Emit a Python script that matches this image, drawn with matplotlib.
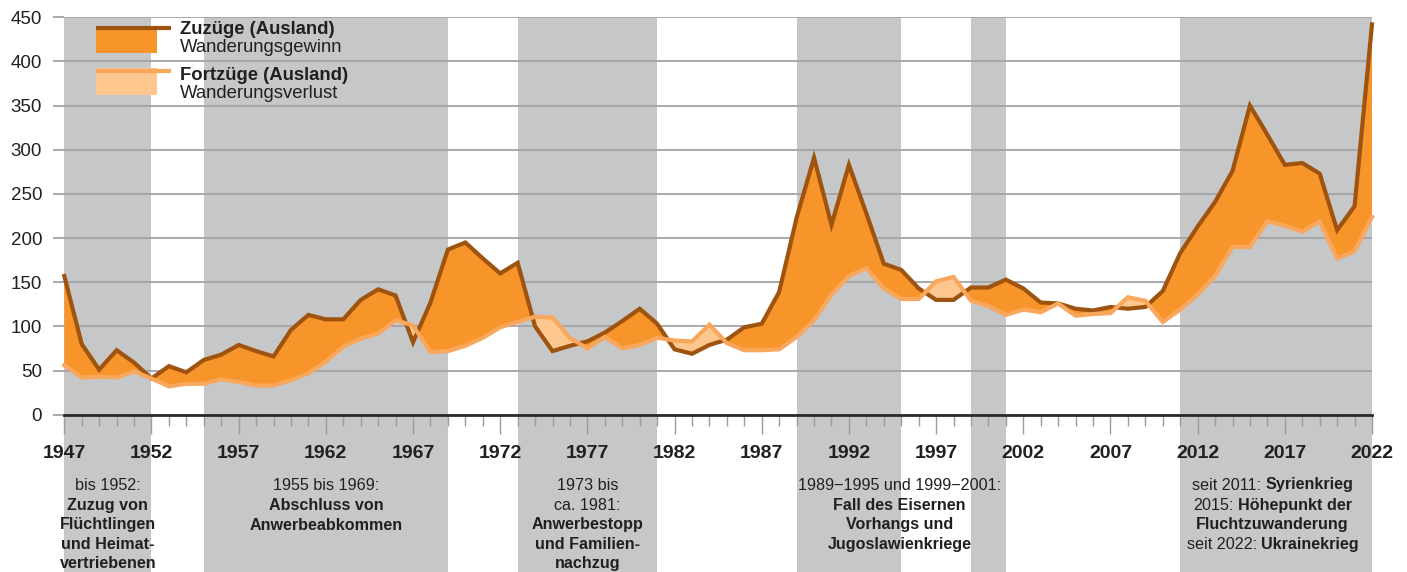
import matplotlib
matplotlib.use("Agg")
import matplotlib.pyplot as plt
import numpy as np
from matplotlib.patches import Rectangle
from matplotlib.lines import Line2D

# ---------------- data (thousands) ----------------
years = list(range(1947, 2023))
zuzuege = [157, 80, 51, 73, 59, 41, 55, 48, 62, 68,
           79, 72, 66, 96, 113, 108, 108, 130, 142, 135,
           82, 127, 187, 195, 177, 160, 172, 100, 72, 78,
           83, 93, 106, 120, 103, 74, 69, 79, 85, 99,
           103, 139, 223, 291, 215, 283, 228, 171, 164, 143,
           130, 130, 144, 144, 153, 143, 127, 126, 120, 118,
           122, 120, 122, 140, 183, 213, 241, 276, 350, 317,
           283, 285, 273, 209, 236, 442]
fortzuege = [56, 42, 43, 42, 49, 41, 32, 35, 35, 40,
             37, 33, 33, 39, 47, 60, 77, 86, 92, 107,
             101, 71, 72, 78, 87, 99, 105, 111, 110, 87,
             75, 88, 75, 79, 87, 84, 83, 102, 81, 73,
             73, 74, 88, 107, 136, 157, 166, 143, 131, 131,
             151, 156, 129, 123, 113, 119, 116, 126, 112, 114,
             115, 133, 129, 105, 119, 136, 157, 190, 190, 219,
             214, 207, 219, 177, 185, 224]
assert len(years) == len(zuzuege) == len(fortzuege)

periods = [(1947, 1952), (1955, 1969), (1973, 1981), (1989, 1995), (1999, 2001), (2011, 2022)]
yticks = [0, 50, 100, 150, 200, 250, 300, 350, 400, 450]
xticks_major = list(range(1947, 2023, 5))

# annotation blocks: (x in years, lines as list of segments (text, weight))
annotations = [
    (1949.5, [[("bis 1952:", "normal")], [("Zuzug von", "bold")], [("Flüchtlingen", "bold")],
              [("und Heimat-", "bold")], [("vertriebenen", "bold")]]),
    (1962.0, [[("1955 bis 1969:", "normal")], [("Abschluss von", "bold")], [("Anwerbeabkommen", "bold")]]),
    (1977.0, [[("1973 bis", "normal")], [("ca. 1981:", "normal")], [("Anwerbestopp", "bold")],
              [("und Familien-", "bold")], [("nachzug", "bold")]]),
    (1994.9, [[("1989\u22121995 und 1999\u22122001:", "normal")], [("Fall des Eisernen", "bold")],
              [("Vorhangs und", "bold")], [("Jugoslawienkriege", "bold")]]),
    (2016.3, [[("seit 2011:", "normal"), ("Syrienkrieg", "bold")],
              [("2015:", "normal"), ("Höhepunkt der", "bold")],
              [("Fluchtzuwanderung", "bold")],
              [("seit 2022:", "normal"), ("Ukrainekrieg", "bold")]]),
]
line_y_px = [485, 505.5, 525, 544.5, 563.5]

# ---------------- style ----------------
C_DARK = "#9E540F"
C_GAIN = "#F7952B"
C_LIGHT = "#F9A75C"
C_LOSS = "#FDC78F"
C_GRAY = "#C6C7C9"
C_GRID = "#A3A3A5"
C_TEXT = "#231F20"
NARROW = ["Liberation Sans Narrow", "Liberation Sans", "DejaVu Sans"]
SANS = ["Liberation Sans", "DejaVu Sans"]

W, H = 1407, 572
fig = plt.figure(figsize=(W / 100, H / 100), dpi=100)
ax_l, ax_r, ax_t, ax_b = 64.3, 1372, 17.3, 414.7
ax = fig.add_axes([ax_l / W, 1 - ax_b / H, (ax_r - ax_l) / W, (ax_b - ax_t) / H])
ax.set_xlim(1947, 2022)
ax.set_ylim(0, 450)

# gray period bands extending to bottom of figure
ymin_frac = -(H - ax_b) / (ax_b - ax_t)
for a, b in periods:
    ax.axvspan(a, b, ymin=ymin_frac, ymax=1, color=C_GRAY, lw=0, zorder=0, clip_on=False)

# grid
ax.set_axisbelow(True)
ax.set_yticks(yticks)
ax.yaxis.grid(True, color=C_GRID, lw=1.3)
for s in ["top", "right", "left", "bottom"]:
    ax.spines[s].set_visible(False)

x = np.array(years, dtype=float)
z = np.array(zuzuege, dtype=float)
f = np.array(fortzuege, dtype=float)
ax.fill_between(x, f, z, where=z >= f, interpolate=True, color=C_GAIN, lw=0, zorder=1)
ax.fill_between(x, f, z, where=z < f, interpolate=True, color=C_LOSS, lw=0, zorder=1)
ax.plot(x, z, color=C_DARK, lw=3.0, zorder=3, clip_on=False, solid_joinstyle="miter")
ax.plot(x, f, color=C_LIGHT, lw=3.0, zorder=4, clip_on=False, solid_joinstyle="miter")
ax.axhline(0, color="#2B2B2B", lw=2.0, zorder=5, clip_on=False)

# ticks
ax.tick_params(axis="y", length=8, width=1.3, color=C_GRID, pad=8, labelsize=13.5, labelcolor=C_TEXT)
for t in ax.get_yticklabels():
    t.set_family(SANS)
ax.set_xticks(xticks_major)
ax.set_xticks(years, minor=True)
ax.set_xticklabels([str(v) for v in xticks_major])
ax.tick_params(axis="x", which="major", length=13.5, width=1.0, color="#9C9C9C", pad=8,
               labelsize=14)
ax.tick_params(axis="x", which="minor", length=8, width=1.0, color="#9C9C9C")
for t in ax.get_xticklabels():
    t.set_family(NARROW)
    t.set_fontweight("bold")
    t.set_color(C_TEXT)

# ---------------- legend ----------------
def fx(px):
    return px / W

def fy(py):
    return 1 - py / H

LEG_SIZE = 13.3
fig.add_artist(Rectangle((fx(96), fy(53)), (157 - 96) / W, 27 / H, transform=fig.transFigure,
                         color=C_GAIN, lw=0))
fig.add_artist(Line2D([fx(96), fx(171)], [fy(28.3), fy(28.3)], transform=fig.transFigure,
                      color=C_DARK, lw=3.0, solid_capstyle="butt"))
fig.add_artist(Rectangle((fx(96), fy(95)), (157 - 96) / W, 27 / H, transform=fig.transFigure,
                         color=C_LOSS, lw=0))
fig.add_artist(Line2D([fx(96), fx(171)], [fy(70.7), fy(70.7)], transform=fig.transFigure,
                      color=C_LIGHT, lw=3.0, solid_capstyle="butt"))
fig.text(fx(180), fy(29), "Zuzüge (Ausland)", fontsize=LEG_SIZE, fontweight="bold", family=SANS,
         color=C_TEXT, va="center", ha="left")
fig.text(fx(180), fy(48), "Wanderungsgewinn", fontsize=LEG_SIZE, family=SANS,
         color=C_TEXT, va="center", ha="left")
fig.text(fx(180), fy(75), "Fortzüge (Ausland)", fontsize=LEG_SIZE, fontweight="bold", family=SANS,
         color=C_TEXT, va="center", ha="left")
fig.text(fx(180), fy(93), "Wanderungsverlust", fontsize=LEG_SIZE, family=SANS,
         color=C_TEXT, va="center", ha="left")

# ---------------- annotations below axis ----------------
renderer = fig.canvas.get_renderer()
ANN_SIZE = 11.6
gap_px = ANN_SIZE * 100 / 72 * 0.25

def year_to_px(yr):
    return ax_l + (yr - 1947) / (2022 - 1947) * (ax_r - ax_l)

for xyear, lines in annotations:
    xc = year_to_px(xyear)
    for i, segs in enumerate(lines):
        ypx = line_y_px[i]
        objs = []
        for text, weight in segs:
            t = fig.text(0, 0, text, fontsize=ANN_SIZE, fontweight=weight, family=NARROW,
                         color=C_TEXT, va="center", ha="left")
            objs.append(t)
        widths = [o.get_window_extent(renderer).width for o in objs]
        total = sum(widths) + gap_px * (len(objs) - 1)
        cur = xc - total / 2
        for o, w in zip(objs, widths):
            o.set_position((fx(cur), fy(ypx)))
            cur += w + gap_px

fig.savefig("out.png", dpi=100)
